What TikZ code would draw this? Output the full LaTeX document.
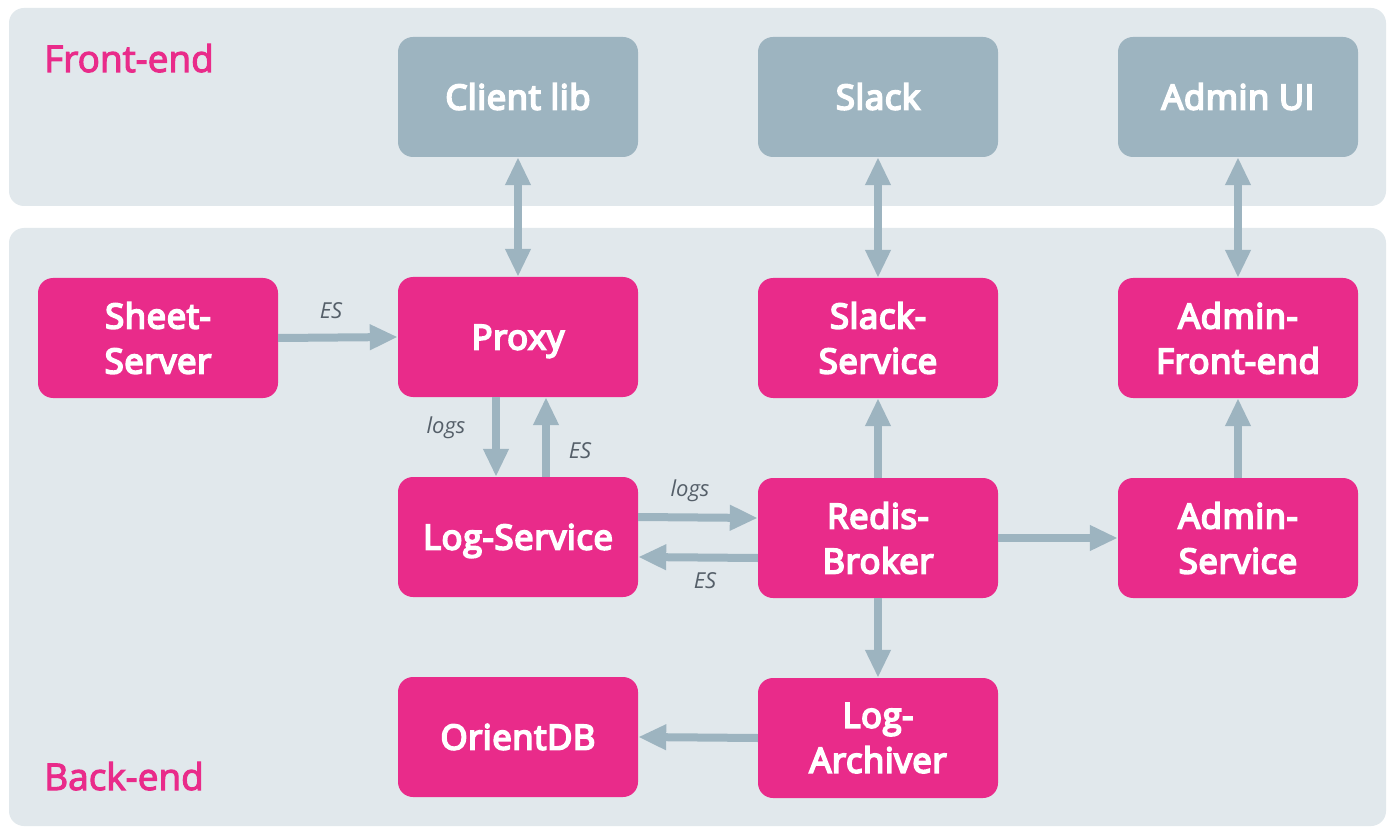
\documentclass[tikz,border=0pt]{standalone}
\usepackage{fontspec}
\setmainfont{Open Sans}
\newfontfamily\sbfont{Open Sans}[FakeBold=5.5,LetterSpace=2]
\newfontfamily\secfont{Open Sans}[FakeBold=3]
\usetikzlibrary{arrows.meta}
\definecolor{pinkc}{RGB}{233,43,138}
\definecolor{arrc}{RGB}{157,180,192}
\definecolor{panelc}{RGB}{225,232,236}
\definecolor{frontc}{RGB}{157,180,192}
\definecolor{labc}{RGB}{85,95,105}
\tikzset{
  panel/.style={fill=panelc, rounded corners=15pt},
  svc/.style={fill=pinkc, rounded corners=15pt, minimum width=240pt, minimum height=120pt, text=white, align=center, inner sep=0pt, font=\sbfont\fontsize{34.5}{45}\selectfont},
  one/.style={text height=25pt, text depth=0pt},
  fe/.style={svc, fill=frontc},
  arr/.style={draw=arrc, line width=8pt, -{Triangle[width=24pt,length=28pt]}},
  darr/.style={draw=arrc, line width=8pt, {Triangle[width=24pt,length=28pt]}-{Triangle[width=24pt,length=28pt]}},
  lab/.style={text=labc, font=\fontsize{22}{26}\selectfont\itshape, inner sep=0pt},
  sec/.style={text=pinkc, font=\secfont\fontsize{37}{40}\selectfont, anchor=base west, inner sep=0pt}
}
\begin{document}
\begin{tikzpicture}[x=1pt,y=-1pt]
\useasboundingbox (0,0) rectangle (1395,834);
\fill[white] (0,0) rectangle (1395,834);
\fill[panel] (9,8) rectangle (1386,206);
\fill[panel] (9,228) rectangle (1386,826);
\node[sec] (fet) at (44,72) {Front-end};
\node[sec] (bet) at (44,790) {Back-end};
% front-end
\node[fe,one] (client) at (518,97) {Client lib};
\node[fe,one] (slack) at (878,97) {Slack};
\node[fe,one] (adminui) at (1238,97) {Admin UI};
% back-end
\node[svc] (sheet) at (158,338) {Sheet-\\Server};
\node[svc,one] (proxy) at (518,337) {Proxy};
\node[svc] (slacksvc) at (878,338) {Slack-\\Service};
\node[svc] (adminfe) at (1238,338) {Admin-\\Front-end};
\node[svc,one] (logsvc) at (518,537) {Log-Service};
\node[svc] (redis) at (878,538) {Redis-\\Broker};
\node[svc] (adminsvc) at (1238,538) {Admin-\\Service};
\node[svc,one] (orient) at (518,737) {OrientDB};
\node[svc] (archiver) at (878,738) {Log-\\Archiver};
% connectors
\draw[darr] (client.south) -- (proxy.north);
\draw[darr] (slack.south) -- (slacksvc.north);
\draw[darr] (adminui.south) -- (adminfe.north);
\draw[arr] (sheet.east) -- (proxy.west);
\draw[arr] ([xshift=-22pt]proxy.south) -- ([xshift=-22pt]logsvc.north);
\draw[arr] ([xshift=28pt]logsvc.north) -- ([xshift=28pt]proxy.south);
\draw[arr] ([yshift=20pt]logsvc.east) -- ([yshift=20pt]redis.west);
\draw[arr] ([yshift=-20pt]redis.west) -- ([yshift=-20pt]logsvc.east);
\draw[arr] (redis.north) -- (slacksvc.south);
\draw[arr] (redis.east) -- (adminsvc.west);
\draw[arr] (adminsvc.north) -- (adminfe.south);
\draw[arr] (redis.south) -- (archiver.north);
\draw[arr] (archiver.west) -- (orient.east);
% labels
\node[lab] (l1) at (331,311) {ES};
\node[lab] (l2) at (446,428) {logs};
\node[lab] (l3) at (580,451) {ES};
\node[lab] (l4) at (690,491) {logs};
\node[lab] (l5) at (705,581) {ES};
\end{tikzpicture}
\end{document}
